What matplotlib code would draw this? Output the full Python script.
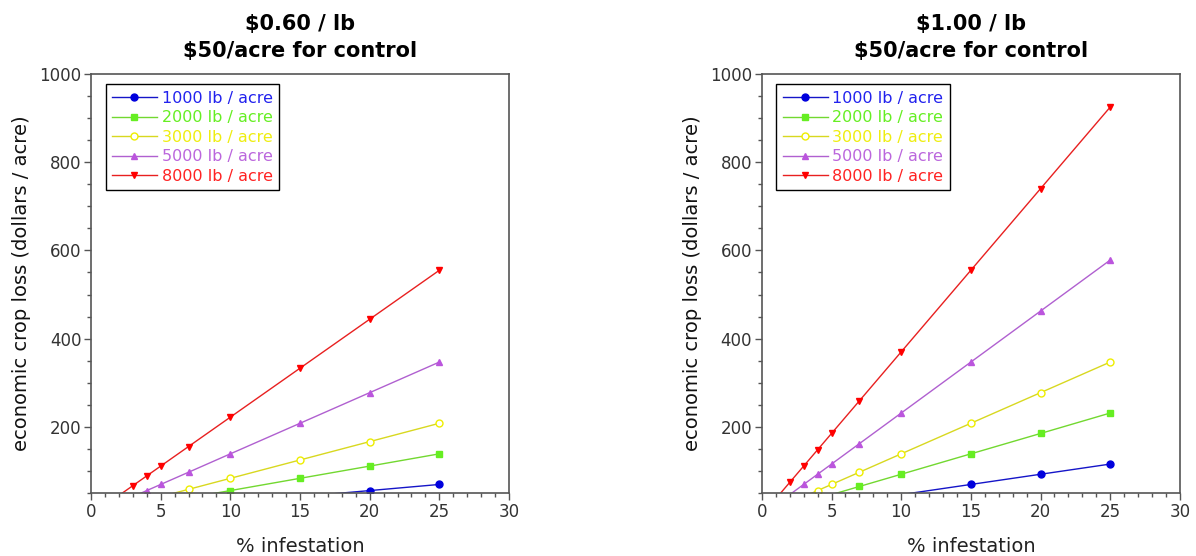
import matplotlib
matplotlib.use('Agg')
import matplotlib.pyplot as plt
from matplotlib.ticker import MultipleLocator

# infestation levels (%) and economic loss (dollars / acre)
infestation = [1, 2, 3, 4, 5, 7, 10, 15, 20, 25]

loss_060 = {
    '1000 lb / acre': [2.8, 5.6, 8.3, 11.1, 13.9, 19.4, 27.8, 41.6, 55.5, 69.4],
    '2000 lb / acre': [5.6, 11.1, 16.7, 22.2, 27.8, 38.9, 55.5, 83.3, 111.0, 138.8],
    '3000 lb / acre': [8.3, 16.7, 25.0, 33.3, 41.6, 58.3, 83.3, 124.9, 166.5, 208.1],
    '5000 lb / acre': [13.9, 27.8, 41.6, 55.5, 69.4, 97.1, 138.8, 208.1, 277.5, 346.9],
    '8000 lb / acre': [22.2, 44.4, 66.6, 88.8, 111.0, 155.4, 222.0, 333.0, 444.0, 555.0],
}
loss_100 = {
    '1000 lb / acre': [4.6, 9.3, 13.9, 18.5, 23.1, 32.4, 46.3, 69.4, 92.5, 115.6],
    '2000 lb / acre': [9.3, 18.5, 27.8, 37.0, 46.3, 64.8, 92.5, 138.8, 185.0, 231.3],
    '3000 lb / acre': [13.9, 27.8, 41.6, 55.5, 69.4, 97.1, 138.8, 208.1, 277.5, 346.9],
    '5000 lb / acre': [23.1, 46.3, 69.4, 92.5, 115.6, 161.9, 231.3, 346.9, 462.5, 578.1],
    '8000 lb / acre': [37.0, 74.0, 111.0, 148.0, 185.0, 259.0, 370.0, 555.0, 740.0, 925.0],
}

titles = ['\\$0.60 / lb\n\\$50/acre for control', '\\$1.00 / lb\n\\$50/acre for control']

# styling per series
line_colors = ['#1515c8', '#72d830', '#d8d820', '#b060d0', '#e82020']
text_colors = ['#2222ee', '#66ee22', '#eeee11', '#bb66dd', '#ff2222']
markers = ['o', 's', 'o', '^', 'v']
face_colors = ['#0000dd', '#66ee22', 'white', '#bb55dd', '#ff0000']
edge_colors = ['#0000dd', '#66ee22', '#eeee00', '#bb55dd', '#ff0000']

plt.rcParams['font.family'] = 'DejaVu Sans'

fig = plt.figure(figsize=(11.96, 5.56), dpi=100)
ax_left = fig.add_axes([0.0761, 0.1133, 0.3495, 0.7536])
ax_right = fig.add_axes([0.637, 0.1133, 0.3495, 0.7536])

for ax, data, title in zip([ax_left, ax_right], [loss_060, loss_100], titles):
    for i, (label, values) in enumerate(data.items()):
        # only show markers that fall inside the plotted range
        show = [v >= 50 for v in values]
        ax.plot(infestation, values, color=line_colors[i], linewidth=1,
                marker=markers[i], markersize=5, markerfacecolor=face_colors[i],
                markeredgecolor=edge_colors[i], markeredgewidth=1,
                markevery=show, label=label)

    ax.set_xlim(0, 30)
    ax.set_ylim(50, 1000)
    ax.xaxis.set_major_locator(MultipleLocator(5))
    ax.xaxis.set_minor_locator(MultipleLocator(1))
    ax.yaxis.set_major_locator(MultipleLocator(200))
    ax.yaxis.set_minor_locator(MultipleLocator(50))
    ax.tick_params(which='major', direction='out', length=5, width=1, pad=2,
                   colors='#555555', labelcolor='#333333', labelsize=12)
    ax.tick_params(which='minor', direction='out', length=3, width=1, colors='#555555')
    for spine in ax.spines.values():
        spine.set_color('#555555')
        spine.set_linewidth(1.2)

    ax.set_title(title, fontsize=15, weight='bold', linespacing=1.45, pad=12)
    ax.set_xlabel('% infestation', fontsize=14, color='#222222', labelpad=12)
    ax.set_ylabel('economic crop loss (dollars / acre)', fontsize=14, color='#111111', labelpad=6)

    leg = ax.legend(loc='upper left', bbox_to_anchor=(0.035, 0.975), fontsize=11.5,
                    frameon=True, fancybox=False, edgecolor='black', framealpha=1,
                    labelspacing=0.28, handlelength=2.8, handletextpad=0.3,
                    borderpad=0.4, borderaxespad=0)
    leg.get_frame().set_linewidth(1)
    for txt, c in zip(leg.get_texts(), text_colors):
        txt.set_color(c)

fig.savefig('out.png', dpi=100)
